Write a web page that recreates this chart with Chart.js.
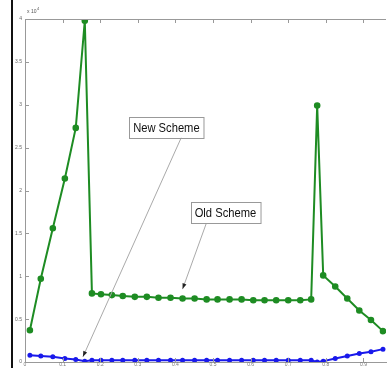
<!DOCTYPE html>
<html>
<head>
<meta charset="utf-8">
<script src="https://cdn.jsdelivr.net/npm/chart.js@4.4.0/dist/chart.umd.min.js"></script>
<style>
  html, body { margin: 0; padding: 0; background: #fff; overflow: hidden; }
  #wrap { width: 392px; height: 368px; position: relative; }
</style>
</head>
<body>
<div id="wrap"><canvas id="chart"></canvas></div>
<script>
// valores (eixo y em unidades de 10^4)
const xValues = [0.013, 0.042, 0.074, 0.106, 0.135, 0.159, 0.178, 0.202, 0.231, 0.260, 0.292,
  0.324, 0.355, 0.387, 0.419, 0.451, 0.483, 0.512, 0.544, 0.576, 0.607, 0.637, 0.668,
  0.700, 0.732, 0.761, 0.777, 0.793, 0.825, 0.857, 0.889, 0.920, 0.952];
const oldScheme = [0.37, 0.97, 1.56, 2.14, 2.73, 3.98, 0.80, 0.79, 0.78, 0.77, 0.76,
  0.76, 0.75, 0.75, 0.74, 0.74, 0.73, 0.73, 0.73, 0.73, 0.72, 0.72, 0.72,
  0.72, 0.72, 0.73, 2.99, 1.01, 0.88, 0.74, 0.60, 0.49, 0.36];
const newScheme = [0.08, 0.07, 0.06, 0.04, 0.03, 0.01, 0.02, 0.02, 0.02, 0.02, 0.02,
  0.02, 0.02, 0.02, 0.02, 0.02, 0.02, 0.02, 0.02, 0.02, 0.02, 0.02, 0.02,
  0.02, 0.02, 0.02, 0.00, 0.01, 0.04, 0.07, 0.10, 0.12, 0.15];
const seriesNames = ['Old Scheme', 'New Scheme'];

const toPoints = (ys) => ys.map((y, i) => ({ x: xValues[i], y: y }));

// moldura estilo MATLAB, ticks internos e anotações
const matlabFrame = {
  id: 'matlabFrame',
  beforeDraw(chart) {
    const c = chart.ctx;
    c.save();
    c.fillStyle = '#fff';
    c.fillRect(0, 0, chart.width, chart.height);
    c.fillStyle = '#111';
    c.fillRect(11, 0, 2, chart.height);
    c.restore();
  },
  afterDraw(chart, args, opts) {
    const c = chart.ctx;
    const a = chart.chartArea;
    const xs = chart.scales.x, ys = chart.scales.y;
    c.save();
    c.strokeStyle = '#999';
    c.lineWidth = 1;
    c.beginPath();
    c.moveTo(a.left, a.top + 0.5);
    c.lineTo(a.right, a.top + 0.5);
    xs.ticks.forEach(t => {
      const px = Math.round(xs.getPixelForValue(t.value)) + 0.5;
      c.moveTo(px, a.top); c.lineTo(px, a.top + 4);
      c.moveTo(px, a.bottom); c.lineTo(px, a.bottom - 4);
    });
    ys.ticks.forEach(t => {
      const py = Math.round(ys.getPixelForValue(t.value)) + 0.5;
      c.moveTo(a.left, py); c.lineTo(a.left + 4, py);
    });
    c.stroke();

    c.fillStyle = '#555';
    c.font = '5px "Liberation Sans"';
    c.textBaseline = 'bottom';
    c.fillText('x 10', a.left + 2, a.top - 5);
    c.font = '4px "Liberation Sans"';
    c.fillText('4', a.left + 12, a.top - 8);

    const squeeze = 0.86;
    opts.notes.forEach(n => {
      const bx = xs.getPixelForValue(n.box[0]);
      const by = ys.getPixelForValue(n.box[1]);
      const tx = xs.getPixelForValue(n.tip[0]);
      const ty = ys.getPixelForValue(n.tip[1]);
      c.font = '13px "Liberation Sans"';
      const w = c.measureText(n.text).width * squeeze + 8;
      const h = 21;
      // linha da seta
      const sx = bx + n.from * w / 2, sy = by + h / 2;
      c.strokeStyle = '#aaa';
      c.lineWidth = 1;
      c.beginPath();
      c.moveTo(sx, sy);
      c.lineTo(tx, ty);
      c.stroke();
      const ang = Math.atan2(ty - sy, tx - sx);
      c.fillStyle = '#222';
      c.beginPath();
      c.moveTo(tx, ty);
      c.lineTo(tx - 6 * Math.cos(ang - 0.35), ty - 6 * Math.sin(ang - 0.35));
      c.lineTo(tx - 6 * Math.cos(ang + 0.35), ty - 6 * Math.sin(ang + 0.35));
      c.closePath();
      c.fill();
      // caixa de texto
      c.fillStyle = '#fff';
      c.fillRect(bx - w / 2, by - h / 2, w, h);
      c.strokeStyle = '#999';
      c.strokeRect(Math.round(bx - w / 2) + 0.5, Math.round(by - h / 2) + 0.5, w, h);
      c.fillStyle = '#111';
      c.textAlign = 'center';
      c.textBaseline = 'middle';
      c.save();
      c.translate(bx, by + 1);
      c.scale(squeeze, 1);
      c.fillText(n.text, 0, 0);
      c.restore();
      c.textAlign = 'left';
    });
    c.restore();
  }
};

new Chart(document.getElementById('chart'), {
  type: 'line',
  data: {
    datasets: [
      {
        label: seriesNames[0],
        data: toPoints(oldScheme),
        borderColor: 'rgb(30, 140, 35)',
        backgroundColor: 'rgb(30, 140, 35)',
        borderWidth: 2,
        pointRadius: 2.3,
        tension: 0
      },
      {
        label: seriesNames[1],
        data: toPoints(newScheme),
        borderColor: 'rgb(25, 25, 235)',
        backgroundColor: 'rgb(25, 25, 235)',
        borderWidth: 2,
        pointRadius: 1.5,
        tension: 0
      }
    ]
  },
  options: {
    responsive: true,
    maintainAspectRatio: false,
    animation: false,
    layout: { padding: { top: 19, left: 0, right: 0, bottom: 0 } },
    scales: {
      x: {
        type: 'linear',
        min: 0,
        max: 0.96,
        afterFit: (s) => { s.height = 5; },
        grid: { display: false, drawTicks: false },
        border: { color: '#999' },
        ticks: {
          stepSize: 0.1,
          includeBounds: false,
          padding: 0,
          color: '#777',
          font: { size: 5, family: 'Liberation Sans' }
        }
      },
      y: {
        min: 0,
        max: 4,
        afterFit: (s) => { s.width = 25; },
        grid: { display: false, drawTicks: false },
        border: { color: '#999' },
        ticks: {
          stepSize: 0.5,
          padding: 3,
          color: '#666',
          font: { size: 5, family: 'Liberation Sans' },
          callback: (v) => String(v)
        }
      }
    },
    plugins: {
      legend: { display: false },
      tooltip: { enabled: false },
      matlabFrame: {
        notes: [
          { text: 'New Scheme', box: [0.376, 2.74], tip: [0.154, 0.06], from: 0.4 },
          { text: 'Old Scheme', box: [0.533, 1.74], tip: [0.419, 0.85], from: -0.55 }
        ]
      }
    }
  },
  plugins: [matlabFrame]
});
</script>
</body>
</html>
